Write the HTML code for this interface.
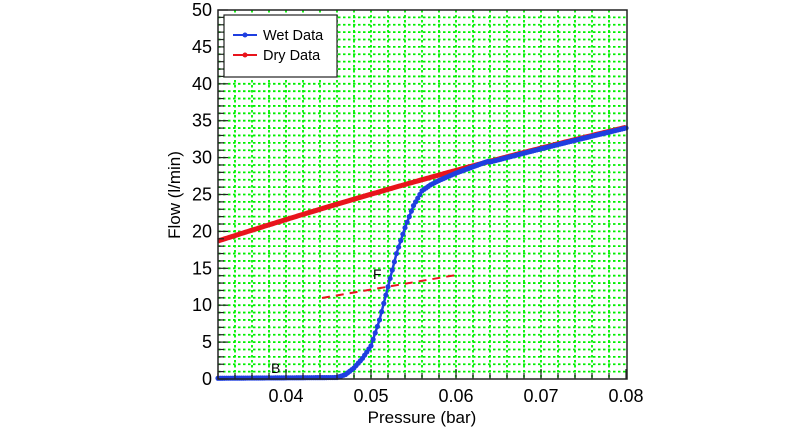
<!DOCTYPE html>
<html><head><meta charset="utf-8"><style>
html,body{margin:0;padding:0;background:#fff}
svg{display:block;font-family:"Liberation Sans",Arial,sans-serif}
</style></head><body>
<svg id="s" width="800" height="436" xmlns="http://www.w3.org/2000/svg">
<rect width="800" height="436" fill="#fff"/>
<g id="grid"></g>
<g id="data"></g>
<rect x="218" y="10" width="409" height="369" fill="none" stroke="#222" stroke-width="1.5"/>
<g id="ticks"></g>
<line x1="322" y1="298" x2="456" y2="275" stroke="#e8141c" stroke-width="2" stroke-dasharray="8,6"/>
<text x="373" y="279" font-size="14">F</text>
<text x="271" y="373" font-size="14">B</text>
<rect x="224" y="15" width="113" height="62" fill="#fff" stroke="#222" stroke-width="1.2"/>
<line x1="233" y1="35" x2="257" y2="35" stroke="#1f3fe0" stroke-width="2"/><circle cx="245" cy="35" r="2.5" fill="#1f3fe0"/>
<text x="263" y="40" font-size="14.5">Wet Data</text>
<line x1="233" y1="55" x2="257" y2="55" stroke="#e8141c" stroke-width="2"/><circle cx="245" cy="55" r="2.5" fill="#e8141c"/>
<text x="263" y="60" font-size="14.5">Dry Data</text>
<g id="labels" font-size="18"></g>
<text x="422" y="423" font-size="17" text-anchor="middle">Pressure (bar)</text>
<text transform="translate(180,195) rotate(-90)" font-size="17" text-anchor="middle">Flow (l/min)</text>
</svg>
<script>
const X=p=>218+(p-0.032)*8500, Y=v=>379-v*7.38;
const NS="http://www.w3.org/2000/svg";
function el(par,t,a,txt){const e=document.createElementNS(NS,t);for(const k in a)e.setAttribute(k,a[k]);if(txt!=null)e.textContent=txt;document.getElementById(par).appendChild(e);return e;}
for(let i=1;i<50;i++)el("grid","line",{x1:218,x2:627,y1:Y(i),y2:Y(i),stroke:"#00f000","stroke-width":1.8,"stroke-dasharray":"2.5,2.5"});
for(let p=0.034;p<0.0799;p+=0.002)el("grid","line",{x1:X(p),x2:X(p),y1:10,y2:379,stroke:"#00f000","stroke-width":1.8,"stroke-dasharray":"2.5,2.5"});
for(let i=0;i<=50;i++){const L=i%5==0?10:6;el("ticks","line",{x1:218,x2:218+L,y1:Y(i),y2:Y(i),stroke:"#222","stroke-width":1.2});}
for(let p=0.032;p<0.0801;p+=0.002){const maj=Math.abs((p*100)%1)<0.01||Math.abs((p*100)%1-1)<0.01;el("ticks","line",{x1:X(p),x2:X(p),y1:379,y2:379-(maj?10:6),stroke:"#222","stroke-width":1.2});}
for(let i=0;i<=50;i+=5)el("labels","text",{x:212,y:Y(i)+6,"text-anchor":"end"},i);
[0.04,0.05,0.06,0.07,0.08].forEach(p=>el("labels","text",{x:X(p),y:402,"text-anchor":"middle"},p.toFixed(2)));
const dry=p=>{const t=(p-0.032)/0.048;return 18.7+15.4*t+2.4*t*(1-t);};
const wp=[[0.032,0.1],[0.046,0.2],[0.047,0.6],[0.048,1.5],[0.049,2.8],[0.050,4.5],[0.051,8],[0.052,12.5],[0.053,17],[0.054,20.5],[0.055,23.5],[0.056,25.5],[0.057,26.3],[0.058,26.9],[0.060,27.9],[0.064,29.6]];
function wet(p){if(p>=0.064)return dry(p)-0.1;for(let i=0;i<wp.length-1;i++)if(p<=wp[i+1][0]){const a=wp[i],b=wp[i+1];return a[1]+(b[1]-a[1])*(p-a[0])/(b[0]-a[0]);}}
let d="";for(let p=0.032;p<=0.0801;p+=0.0002)d+=(d?"L":"M")+X(p).toFixed(1)+","+Y(dry(p)).toFixed(1);
el("data","path",{d:d,fill:"none",stroke:"#e8141c","stroke-width":5});
let w="";for(let p=0.032;p<=0.0801;p+=0.0002)w+=(w?"L":"M")+X(p).toFixed(1)+","+Y(wet(p)).toFixed(1);
el("data","path",{d:w,fill:"none",stroke:"#1f3fe0","stroke-width":2.5});
for(let p=0.032;p<=0.0801;p+=0.00025)el("data","circle",{cx:X(p),cy:Y(wet(p)),r:2.6,fill:"#1f3fe0"});
</script>
</body></html>
